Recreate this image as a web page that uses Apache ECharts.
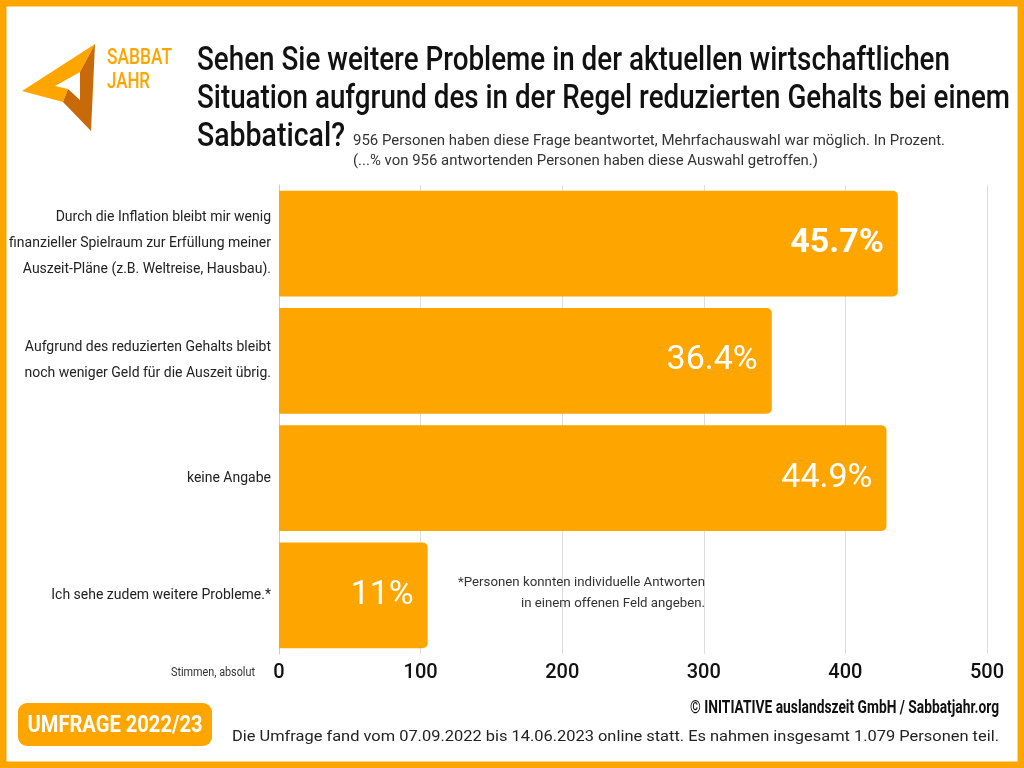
<!DOCTYPE html>
<html><head><meta charset="utf-8">
<script src="https://cdn.jsdelivr.net/npm/echarts@6/dist/echarts.min.js"></script>
<style>html,body{margin:0;padding:0;background:#fff}#c{width:1024px;height:768px}</style>
</head><body><div id="c"></div>
<script>
const categories = [
  'Durch die Inflation bleibt mir wenig\nfinanzieller Spielraum zur Erfüllung meiner\nAuszeit-Pläne (z.B. Weltreise, Hausbau).',
  'Aufgrund des reduzierten Gehalts bleibt\nnoch weniger Geld für die Auszeit übrig.',
  'keine Angabe',
  'Ich sehe zudem weitere Probleme.*'
];
const votes = [437, 348, 429, 105];
const percentLabels = ['45.7%', '36.4%', '44.9%', '11%'];
const xTicks = [0, 100, 200, 300, 400, 500];

const ORANGE = '#FFA500';
const FONT = 'Roboto,"Liberation Sans",sans-serif';

const mctx = document.createElement('canvas').getContext('2d');
function measure(str, font) { mctx.font = font; return mctx.measureText(str).width; }
// text fitted horizontally to a target width (condensed look)
function txt(str, x, y, size, weight, color, targetW, align) {
  const font = weight + ' ' + size + 'px ' + FONT;
  const s = targetW ? targetW / measure(str, font) : 1;
  return {type: 'text', x: x, y: y, scaleX: s, scaleY: 1, z: 10,
    style: {text: str, fill: color, font: font, align: align || 'left', verticalAlign: 'middle'}};
}

const chart = echarts.init(document.getElementById('c'), null, {renderer: 'canvas'});
chart.setOption({
  backgroundColor: '#fff',
  animation: false,
  grid: {left: 279, right: 37, top: 185, bottom: 114, containLabel: false, outerBoundsMode: 'none'},
  xAxis: {
    type: 'value', min: xTicks[0], max: xTicks[xTicks.length - 1], interval: 100,
    axisLine: {show: false}, axisTick: {show: false},
    splitLine: {lineStyle: {color: '#dddddd', width: 1}},
    axisLabel: {color: '#111', fontFamily: FONT, fontWeight: 500, fontSize: 20, margin: 9}
  },
  yAxis: {
    type: 'category', data: categories, inverse: true,
    axisLine: {show: true, lineStyle: {color: '#cccccc'}},
    axisTick: {show: false},
    axisLabel: {color: '#222', fontFamily: FONT, fontSize: 14, lineHeight: 26, align: 'right', margin: 8}
  },
  series: [{
    type: 'bar', barCategoryGap: '10%',
    data: votes.map((v, i) => ({value: v, label: {fontWeight: i === 0 ? 'bold' : 'normal'}})),
    itemStyle: {color: ORANGE, borderRadius: [0, 5, 5, 0]},
    label: {
      show: true, position: 'insideRight', distance: 14,
      formatter: p => percentLabels[p.dataIndex],
      color: '#fff', fontFamily: FONT, fontSize: 34
    }
  }],
  graphic: [
    {type: 'rect', shape: {x: 3, y: 3, width: 1018, height: 762}, style: {fill: 'none', stroke: ORANGE, lineWidth: 7}, z: 100},
    {type: 'polygon', shape: {points: [[22,91],[95,44],[80,72],[55,86],[68,89],[63,102]]}, style: {fill: ORANGE}},
    {type: 'polygon', shape: {points: [[95,44],[91,131],[63,102],[68,89],[80,100],[80,72]]}, style: {fill: '#C96A0A'}},
    txt('SABBAT', 107, 58, 22, 500, ORANGE, 65),
    txt('JAHR', 107, 82, 22, 500, ORANGE, 43),
    txt('Sehen Sie weitere Probleme in der aktuellen wirtschaftlichen', 197, 61, 34, 500, '#111', 753),
    txt('Situation aufgrund des in der Regel reduzierten Gehalts bei einem', 197, 99, 34, 500, '#111', 813),
    txt('Sabbatical?', 197, 137, 34, 500, '#111', 148),
    txt('956 Personen haben diese Frage beantwortet, Mehrfachauswahl war möglich. In Prozent.', 353, 141, 14, 'normal', '#333', 592),
    txt('(...% von 956 antwortenden Personen haben diese Auswahl getroffen.)', 353, 161, 14, 'normal', '#333', 465),
    txt('*Personen konnten individuelle Antworten', 705, 583, 13, 'normal', '#333', 247, 'right'),
    txt('in einem offenen Feld angeben.', 705, 604, 13, 'normal', '#333', 184, 'right'),
    txt('Stimmen, absolut', 255, 673, 12.5, 'normal', '#333', 84, 'right'),
    {type: 'rect', shape: {x: 18, y: 703, width: 194, height: 43, r: 9}, style: {fill: ORANGE}},
    txt('UMFRAGE 2022/23', 115, 726, 24, 'bold', '#fff', 175, 'center'),
    txt('© INITIATIVE auslandszeit GmbH / Sabbatjahr.org', 999, 708, 18, 'bold', '#111', 309, 'right'),
    txt('Die Umfrage fand vom 07.09.2022 bis 14.06.2023 online statt. Es nahmen insgesamt 1.079 Personen teil.', 999, 737, 15, 'normal', '#222', 767, 'right')
  ]
});
</script>
</body></html>
